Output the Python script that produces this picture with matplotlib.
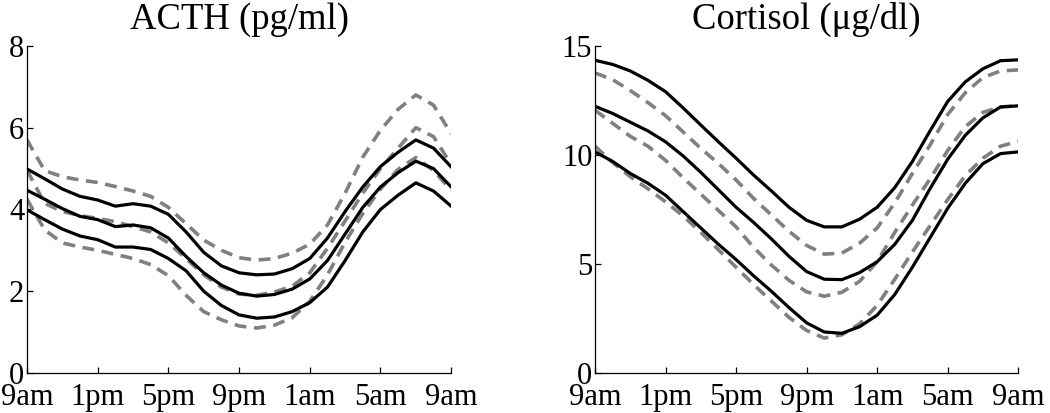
from matplotlib import pyplot as plt

hours = list(range(25))
tick_hours = [0, 4, 8, 12, 16, 20, 24]
tick_labels = ['9am', '1pm', '5pm', '9pm', '1am', '5am', '9am']

# ACTH (pg/ml): solid black = model, dashed gray = data
acth_upper = [4.99, 4.75, 4.5, 4.32, 4.23, 4.08, 4.14, 4.08, 3.88, 3.45, 2.95, 2.62, 2.45, 2.4, 2.42,
              2.55, 2.8, 3.3, 3.95, 4.55, 5.05, 5.4, 5.7, 5.5, 5.04]
acth_mid = [4.47, 4.25, 4.02, 3.83, 3.75, 3.58, 3.62, 3.55, 3.3, 2.85, 2.45, 2.15, 1.95, 1.88, 1.92,
            2.05, 2.3, 2.75, 3.4, 4.05, 4.55, 4.9, 5.18, 5.0, 4.55]
acth_lower = [3.99, 3.75, 3.52, 3.35, 3.26, 3.08, 3.08, 3.02, 2.8, 2.5, 2.0, 1.65, 1.42, 1.34, 1.37,
              1.5, 1.72, 2.1, 2.75, 3.45, 4.0, 4.35, 4.65, 4.45, 4.08]
acth_data_upper = [5.7, 4.95, 4.8, 4.72, 4.66, 4.56, 4.45, 4.32, 4.05, 3.65, 3.25, 3.0, 2.82, 2.76, 2.8,
                   2.93, 3.15, 3.62, 4.4, 5.28, 5.94, 6.45, 6.8, 6.55, 5.85]
acth_data_mid = [4.96, 4.15, 3.95, 3.85, 3.78, 3.7, 3.58, 3.45, 3.18, 2.8, 2.4, 2.1, 1.93, 1.9, 1.98,
                 2.12, 2.45, 3.05, 3.72, 4.4, 5.0, 5.5, 6.0, 5.78, 5.1]
acth_data_lower = [4.25, 3.5, 3.18, 3.08, 3.0, 2.9, 2.8, 2.65, 2.38, 1.9, 1.5, 1.3, 1.15, 1.1, 1.17,
                   1.35, 1.75, 2.4, 3.2, 3.9, 4.5, 4.98, 5.27, 4.95, 4.47]

# Cortisol (ug/dl)
cort_upper = [14.34, 14.15, 13.85, 13.42, 12.9, 12.15, 11.37, 10.6, 9.85, 9.07, 8.35, 7.6, 7.0, 6.7, 6.7,
              7.05, 7.6, 8.5, 9.7, 11.1, 12.45, 13.35, 13.95, 14.32, 14.36]
cort_mid = [12.23, 11.9, 11.5, 11.1, 10.6, 9.95, 9.2, 8.4, 7.6, 6.9, 6.15, 5.35, 4.65, 4.3, 4.28,
            4.6, 5.1, 5.9, 7.0, 8.45, 9.8, 10.9, 11.7, 12.2, 12.25]
cort_lower = [10.14, 9.7, 9.15, 8.7, 8.15, 7.4, 6.65, 5.9, 5.2, 4.45, 3.75, 3.0, 2.3, 1.88, 1.82,
              2.12, 2.65, 3.6, 4.85, 6.2, 7.55, 8.7, 9.6, 10.06, 10.14]
cort_data_upper = [13.76, 13.45, 12.95, 12.4, 11.8, 11.05, 10.3, 9.6, 8.85, 8.0, 7.25, 6.5, 5.85, 5.45, 5.5,
                   5.95, 6.65, 7.8, 9.15, 10.45, 11.85, 12.85, 13.55, 13.85, 13.9]
cort_data_mid = [12.05, 11.45, 10.85, 10.4, 9.75, 8.95, 8.2, 7.45, 6.7, 5.75, 4.95, 4.25, 3.72, 3.52, 3.7,
                 4.2, 5.1, 6.45, 7.7, 8.9, 10.2, 11.3, 11.95, 12.2, 12.25]
cort_data_lower = [10.4, 9.65, 9.0, 8.45, 7.85, 7.2, 6.45, 5.65, 4.85, 4.05, 3.3, 2.55, 1.95, 1.6, 1.75,
                   2.25, 3.1, 4.3, 5.55, 6.75, 7.95, 9.05, 9.85, 10.4, 10.62]

plt.rcParams['font.family'] = ['Liberation Serif', 'DejaVu Serif']
plt.rcParams['font.size'] = 22


def draw_panel(ax, title, model, data, ymax, yticks):
    for series in data:
        ax.plot(hours, series, color='#808080', linewidth=2.6, dashes=(3.3, 2.1),
                dash_joinstyle='round')
    for series in model:
        ax.plot(hours, series, color='black', linewidth=2.3, solid_joinstyle='round')
    ax.set_xlim(0, 24)
    ax.set_ylim(0, ymax)
    ax.set_xticks(tick_hours)
    ax.set_xticklabels(tick_labels)
    ax.set_yticks(yticks)
    ax.set_title(title, pad=12)
    ax.spines['top'].set_visible(False)
    ax.spines['right'].set_visible(False)
    for side in ('left', 'bottom'):
        ax.spines[side].set_linewidth(0.9)
    ax.tick_params(direction='in', length=4, width=0.9, pad=2)
    ax.tick_params(axis='x', pad=7)


def main():
    fig = plt.figure(figsize=(10.5, 4.13), dpi=100)
    ax1 = fig.add_axes([0.0257, 0.0969, 0.404, 0.792])
    ax2 = fig.add_axes([0.5667, 0.0969, 0.403, 0.792])
    draw_panel(ax1, 'ACTH (pg/ml)', [acth_upper, acth_mid, acth_lower],
               [acth_data_upper, acth_data_mid, acth_data_lower], 8, [0, 2, 4, 6, 8])
    draw_panel(ax2, 'Cortisol (μg/dl)', [cort_upper, cort_mid, cort_lower],
               [cort_data_upper, cort_data_mid, cort_data_lower], 15, [0, 5, 10, 15])
    fig.savefig('out.png', dpi=100)


if __name__ == '__main__':
    main()
